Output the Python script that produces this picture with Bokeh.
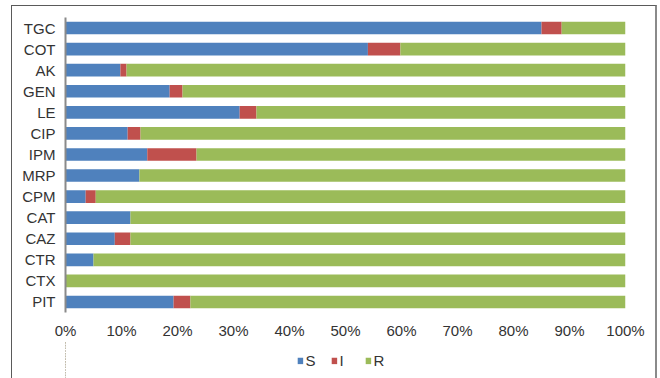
from bokeh.plotting import figure
from bokeh.models import (FactorRange, Range1d, FixedTicker, PrintfTickFormatter,
                          Legend, ColumnDataSource)
from bokeh.layouts import column
from bokeh.embed import file_html
from bokeh.resources import INLINE

categories = ["TGC", "COT", "AK", "GEN", "LE", "CIP", "IPM", "MRP", "CPM",
              "CAT", "CAZ", "CTR", "CTX", "PIT"]
S = [85.0, 54.0, 9.8, 18.6, 31.1, 11.1, 14.6, 13.2, 3.6, 11.6, 8.8, 5.0, 0.0, 19.3]
I = [3.6, 5.8, 1.1, 2.3, 3.0, 2.3, 8.8, 0.0, 1.8, 0.0, 2.8, 0.0, 0.0, 3.0]
R = [round(100 - s - i, 1) for s, i in zip(S, I)]
series = ["S", "I", "R"]
colors = ["#4F81BD", "#C0504D", "#9BBB59"]
x_ticks = list(range(0, 101, 10))

source = ColumnDataSource(dict(cat=categories, S=S, I=I, R=R))
font = "Liberation Sans"

p = figure(frame_width=560, frame_height=295, output_backend="svg",
           toolbar_location=None,
           y_range=FactorRange(factors=categories[::-1], range_padding=0),
           x_range=Range1d(0, 100),
           min_border_left=53, min_border_right=30, min_border_top=11,
           min_border_bottom=0)

p.hbar_stack(series, y="cat", height=0.6, color=colors, source=source,
             line_color=None)

p.xgrid.visible = False
p.ygrid.visible = False
p.outline_line_color = None

p.xaxis.ticker = FixedTicker(ticks=x_ticks)
p.xaxis.formatter = PrintfTickFormatter(format="%d%%")
p.xaxis.axis_line_color = None
p.xaxis.major_tick_line_color = None
p.xaxis.minor_tick_line_color = None
p.xaxis.major_tick_out = 0
p.xaxis.minor_tick_out = 0
p.xaxis.major_label_text_font = font
p.xaxis.major_label_text_font_size = "15px"
p.xaxis.major_label_text_color = "#333333"
p.xaxis.major_label_standoff = 9

p.yaxis.axis_line_color = "#8a8a8a"
p.yaxis.axis_line_width = 2
p.yaxis.major_tick_line_color = None
p.yaxis.minor_tick_line_color = None
p.yaxis.major_tick_out = 0
p.yaxis.minor_tick_out = 0
p.yaxis.major_label_text_font = font
p.yaxis.major_label_text_font_size = "15px"
p.yaxis.major_label_text_color = "#333333"
p.yaxis.major_label_standoff = 10

# legend strip below the chart (same series, drawn outside this strip's view)
p2 = figure(width=643, height=38, output_backend="svg", toolbar_location=None,
            x_range=Range1d(200, 300),
            y_range=FactorRange(factors=categories[::-1], range_padding=0),
            x_axis_type=None, y_axis_type=None,
            min_border_left=0, min_border_right=0, min_border_top=0,
            min_border_bottom=0)
p2.xgrid.visible = False
p2.ygrid.visible = False
p2.outline_line_color = None
legend_renderers = p2.hbar_stack(series, y="cat", height=0.6, color=colors,
                                 source=source, line_color=None)

legend = Legend(items=[(s, [r]) for s, r in zip(series, legend_renderers)],
                orientation="horizontal", location="center",
                glyph_width=7, glyph_height=8, label_standoff=2, spacing=5,
                label_text_font=font, label_text_font_size="15px",
                label_text_color="#333333", padding=2, margin=0,
                border_line_color=None, background_fill_alpha=0)
p2.add_layout(legend, "center")

layout = column(p, p2, spacing=0, margin=(5, 0, 0, 11),
                styles={"border-left": "1px solid #5a5a5a",
                        "border-top": "1px solid #5a5a5a",
                        "border-right": "2px solid #8a8a8a"})

open("out.html", "w").write(file_html(layout, INLINE))
